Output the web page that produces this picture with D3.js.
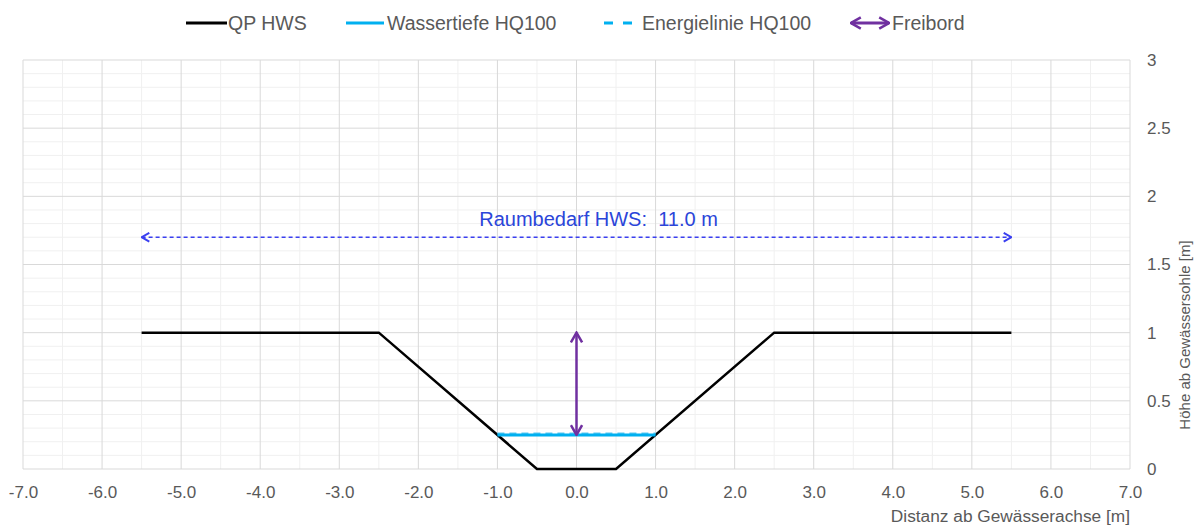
<!DOCTYPE html>
<html>
<head>
<meta charset="utf-8">
<script src="https://cdn.jsdelivr.net/npm/d3@7"></script>
<style>
  body { margin: 0; background: #fff; }
  svg text { font-family: "Liberation Sans", Arial, sans-serif; }
</style>
</head>
<body>
<div id="chart"></div>
<script>
// profile of the HWS cross section
const profileX = [-5.5, -2.5, -0.5, 0.5, 2.5, 5.5];
const profileY = [1, 1, 0, 0, 1, 1];

const waterX = [-1, 1];
const waterY = [0.25, 0.25];

const energyX = [-1, 1];
const energyY = [0.26, 0.26];

const freibordX = [0, 0];
const freibordY = [0.25, 1];

const raumX = [-5.5, 5.5];
const raumY = [1.7, 1.7];
const raumLabel = 'Raumbedarf HWS:  11.0 m';

const xTicks = d3.range(-7, 7.01, 1);
const yTicks = [0, 0.5, 1, 1.5, 2, 2.5, 3];

const legendNames = ['QP HWS', 'Wassertiefe HQ100', 'Energielinie HQ100', 'Freibord'];

const width = 1199, height = 526;
const svg = d3.select('#chart').append('svg')
  .attr('width', width)
  .attr('height', height);

const x = d3.scaleLinear().domain([-7, 7]).range([23, 1130]);
const y = d3.scaleLinear().domain([0, 3]).range([469, 60]);

const defs = svg.append('defs');
function marker(id, color, w) {
  defs.append('marker')
    .attr('id', id)
    .attr('viewBox', '0 0 10 10')
    .attr('refX', 9).attr('refY', 5)
    .attr('markerWidth', w).attr('markerHeight', w)
    .attr('markerUnits', 'userSpaceOnUse')
    .attr('orient', 'auto-start-reverse')
    .append('path')
    .attr('d', 'M2,1 L9,5 L2,9')
    .attr('fill', 'none')
    .attr('stroke', color)
    .attr('stroke-width', 1.8);
}
marker('purpleArrow', '#7030a0', 14);
marker('blueArrow', '#3a3ff0', 11);

// grid
const grid = svg.append('g');
grid.selectAll('.minx')
  .data(d3.range(-6.5, 7, 1))
  .join('line')
  .attr('x1', d => x(d)).attr('x2', d => x(d))
  .attr('y1', y(0)).attr('y2', y(3))
  .attr('stroke', '#f0f0f0');
grid.selectAll('.miny')
  .data(d3.range(0.1, 3, 0.1).filter(v => Math.abs(v * 2 - Math.round(v * 2)) > 0.01))
  .join('line')
  .attr('x1', x(-7)).attr('x2', x(7))
  .attr('y1', d => y(d)).attr('y2', d => y(d))
  .attr('stroke', '#f0f0f0');
grid.selectAll('.majx')
  .data(xTicks)
  .join('line')
  .attr('x1', d => x(d)).attr('x2', d => x(d))
  .attr('y1', y(0)).attr('y2', y(3))
  .attr('stroke', '#d9d9d9');
grid.selectAll('.majy')
  .data(yTicks)
  .join('line')
  .attr('x1', x(-7)).attr('x2', x(7))
  .attr('y1', d => y(d)).attr('y2', d => y(d))
  .attr('stroke', '#d9d9d9');

// axes
const xAxis = svg.append('g')
  .attr('transform', `translate(0,${y(0) + 14})`)
  .call(d3.axisBottom(x).tickValues(xTicks).tickFormat(d => d.toFixed(1)).tickSize(0));
xAxis.select('.domain').remove();
xAxis.selectAll('text').attr('font-size', 17).attr('fill', '#595959')
  .attr('font-family', '"Liberation Sans", Arial, sans-serif');

const yAxis = svg.append('g')
  .attr('transform', `translate(${x(7) + 14},0)`)
  .call(d3.axisRight(y).tickValues(yTicks).tickFormat(d3.format('')).tickSize(0));
yAxis.select('.domain').remove();
yAxis.selectAll('text').attr('font-size', 17).attr('fill', '#595959')
  .attr('font-family', '"Liberation Sans", Arial, sans-serif');

svg.append('text')
  .attr('x', x(7)).attr('y', 522)
  .attr('text-anchor', 'end')
  .attr('font-size', 17.3).attr('fill', '#595959')
  .text('Distanz ab Gewässerachse [m]');

svg.append('text')
  .attr('transform', `translate(1190,335) rotate(-90)`)
  .attr('text-anchor', 'middle')
  .attr('font-size', 15).attr('fill', '#595959')
  .text('Höhe ab Gewässersohle [m]');

const line = d3.line().x(d => x(d[0])).y(d => y(d[1]));

// Raumbedarf
svg.append('path')
  .datum(d3.zip(raumX, raumY))
  .attr('d', line)
  .attr('fill', 'none')
  .attr('stroke', '#3a3ff0')
  .attr('stroke-width', 1.5)
  .attr('stroke-dasharray', '4,3')
  .attr('marker-start', 'url(#blueArrow)')
  .attr('marker-end', 'url(#blueArrow)');

svg.append('text')
  .attr('x', x(0) + 22).attr('y', y(1.7) - 11)
  .attr('text-anchor', 'middle')
  .attr('font-size', 20).attr('fill', '#2b45d9')
  .attr('xml:space', 'preserve')
  .style('white-space', 'pre')
  .text(raumLabel);

// profile
svg.append('path')
  .datum(d3.zip(profileX, profileY))
  .attr('d', line)
  .attr('fill', 'none')
  .attr('stroke', '#000')
  .attr('stroke-width', 2.5);

// energy line
svg.append('path')
  .datum(d3.zip(energyX, energyY))
  .attr('d', line)
  .attr('fill', 'none')
  .attr('stroke', '#5cc8f2')
  .attr('stroke-width', 2)
  .attr('stroke-dasharray', '7,5');

// water
svg.append('path')
  .datum(d3.zip(waterX, waterY))
  .attr('d', line)
  .attr('fill', 'none')
  .attr('stroke', '#00b0f0')
  .attr('stroke-width', 3);

// freibord
svg.append('path')
  .datum(d3.zip(freibordX, freibordY))
  .attr('d', line)
  .attr('fill', 'none')
  .attr('stroke', '#7030a0')
  .attr('stroke-width', 2.5)
  .attr('marker-start', 'url(#purpleArrow)')
  .attr('marker-end', 'url(#purpleArrow)');

// legend
const legend = svg.append('g').attr('transform', 'translate(0,23)');
const legLine = [[186, 227], [346, 384], [604, 632], [851, 889]];
const legText = [228, 387, 642, 892];
legendNames.forEach((name, i) => {
  const ln = legend.append('line')
    .attr('x1', legLine[i][0]).attr('x2', legLine[i][1]).attr('y1', 0).attr('y2', 0)
    .attr('stroke-width', 2.8);
  if (i === 0) ln.attr('stroke', '#000');
  if (i === 1) ln.attr('stroke', '#00b0f0');
  if (i === 2) ln.attr('stroke', '#00b0f0').attr('stroke-dasharray', '9,10');
  if (i === 3) ln.attr('stroke', '#7030a0')
    .attr('marker-start', 'url(#purpleArrow)').attr('marker-end', 'url(#purpleArrow)');
  legend.append('text')
    .attr('x', legText[i]).attr('y', 7)
    .attr('font-size', 19.5).attr('fill', '#595959')
    .text(name);
});
</script>
</body>
</html>
